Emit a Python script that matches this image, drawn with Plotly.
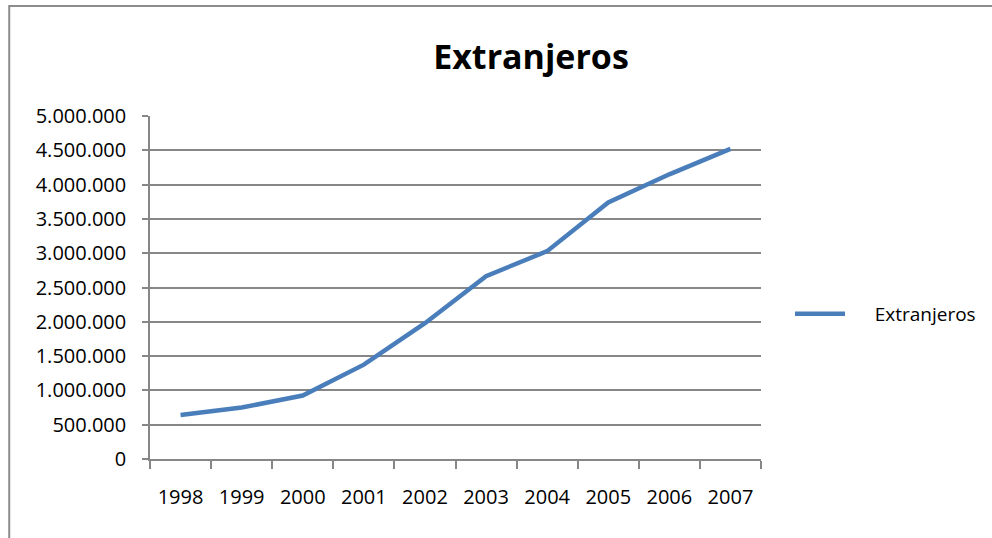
import plotly.graph_objects as go

# Foreign residents per year
years = ["1998", "1999", "2000", "2001", "2002", "2003", "2004", "2005", "2006", "2007"]
extranjeros = [640000, 750000, 925000, 1375000, 1980000, 2665000, 3030000, 3740000, 4150000, 4520000]
y_ticks = [0, 500000, 1000000, 1500000, 2000000, 2500000, 3000000, 3500000, 4000000, 4500000, 5000000]

W, H = 992, 538
L, R, T, B = 150, 762, 116, 459  # plot area in pixels

def px_to_paper_x(px):
    return (px - L) / (R - L)

def px_to_paper_y(py):
    return (B - py) / (B - T)

FONT = "Open Sans, sans-serif"
GRID = "#878787"

fig = go.Figure()
fig.add_trace(go.Scatter(
    x=years, y=extranjeros, mode="lines",
    name="\u00a0" * 5 + "Extranjeros",
    line=dict(color="#4A7EBB", width=4.5),
))

fig.update_layout(
    width=W, height=H,
    margin=dict(l=L, r=W - R, t=T, b=H - B, pad=0),
    paper_bgcolor="white", plot_bgcolor="white",
    separators=",.",
    font=dict(family=FONT, color="#000000", size=20),
    title=dict(
        text="<b>Extranjeros</b>", x=531 / W, xanchor="center",
        y=1 - 57 / H, yanchor="middle",
        font=dict(family=FONT, size=34, color="#000000"),
    ),
    showlegend=True,
    legend=dict(
        x=px_to_paper_x(790), xanchor="left",
        y=px_to_paper_y(314), yanchor="middle",
        font=dict(family=FONT, size=19, color="#000000"),
        itemwidth=50, bgcolor="rgba(0,0,0,0)",
    ),
    xaxis=dict(
        type="category", range=[-0.5, 9.5],
        showgrid=False, showline=True, linecolor=GRID, linewidth=1.5,
        ticks="outside", tickson="boundaries", ticklen=8, tickcolor=GRID, tickwidth=1.5,
        ticklabelstandoff=19, tickfont=dict(family=FONT, size=20),
        zeroline=False, fixedrange=True,
    ),
    yaxis=dict(
        range=[0, 5000000], tickvals=y_ticks, tickformat=",d",
        showgrid=True, gridcolor=GRID, gridwidth=1.5,
        showline=True, linecolor=GRID, linewidth=1.5,
        ticks="outside", ticklen=6, tickcolor=GRID, tickwidth=1.5,
        ticklabelstandoff=12, tickfont=dict(family=FONT, size=20),
        zeroline=False, fixedrange=True,
    ),
    shapes=[
        # outer chart-area border
        dict(type="rect", xref="paper", yref="paper",
             x0=px_to_paper_x(9), x1=px_to_paper_x(1010),
             y0=px_to_paper_y(560), y1=px_to_paper_y(6),
             line=dict(color="#8C8C8C", width=2), fillcolor="rgba(0,0,0,0)",
             layer="below"),
    ],
)

fig.write_html("out.html")
